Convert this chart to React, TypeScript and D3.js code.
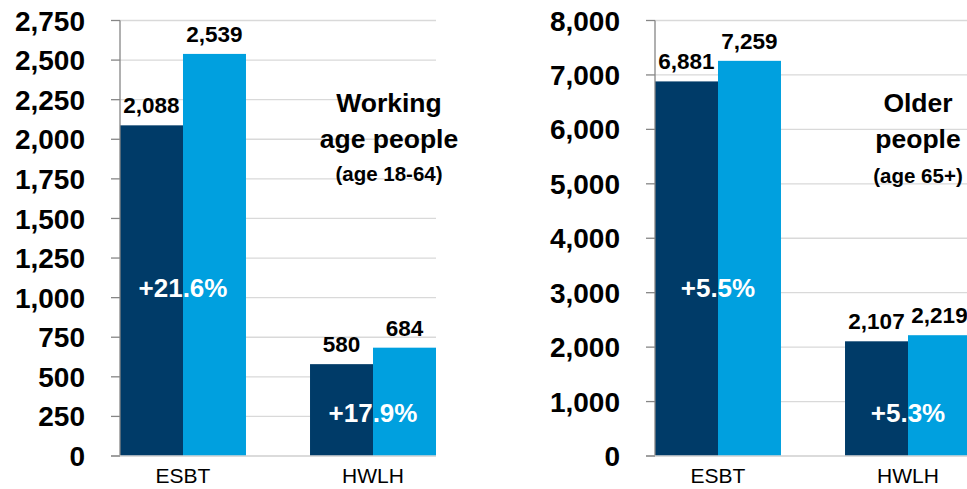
import React from "react";
import * as d3 from "d3";

const categories = ["ESBT", "HWLH"];
const workingBefore = [2088, 580];
const workingAfter = [2539, 684];
const workingPct = ["+21.6%", "+17.9%"];
const workingTicks = [0, 250, 500, 750, 1000, 1250, 1500, 1750, 2000, 2250, 2500, 2750];
const workingTitle = ["Working", "age people", "(age 18-64)"];

const olderBefore = [6881, 2107];
const olderAfter = [7259, 2219];
const olderPct = ["+5.5%", "+5.3%"];
const olderTicks = [0, 1000, 2000, 3000, 4000, 5000, 6000, 7000, 8000];
const olderTitle = ["Older", "people", "(age 65+)"];

const DARK = "#003B68";
const LIGHT = "#00A0DF";
const FONT = "Liberation Sans, Arial, sans-serif";

type PanelProps = {
  x0: number;
  before: number[];
  after: number[];
  pct: string[];
  ticks: number[];
  title: string[];
  titleX: number;
  subY: number;
};

function Panel({ x0, before, after, pct, ticks, title, titleX, subY }: PanelProps) {
  const top = 20.5;
  const bottom = 456;
  const width = 316;
  const y = d3.scaleLinear().domain([0, ticks[ticks.length - 1]]).range([bottom, top]);
  const x = d3.scaleBand<string>().domain(categories).range([x0, x0 + width]).paddingInner(0.337).paddingOuter(0);
  const bw = x.bandwidth() / 2;
  const fmt = d3.format(",");
  const pctY = [297, 422];
  return (
    <g>
      {ticks.map((t) => (
        <g key={t}>
          <line x1={x0} x2={x0 + width} y1={y(t)} y2={y(t)} stroke="#D9D9D9" strokeWidth={1.3} />
          <line x1={x0 - 9} x2={x0} y1={y(t)} y2={y(t)} stroke="#868686" strokeWidth={1.3} />
          <text x={x0 - 35} y={y(t)} dy="0.36em" textAnchor="end" fontFamily={FONT} fontWeight="bold" fontSize={28} fill="#000">
            {fmt(t)}
          </text>
        </g>
      ))}
      {categories.map((c, i) => {
        const bx = x(c)!;
        return (
          <g key={c}>
            <rect x={bx} y={y(before[i])} width={bw} height={y(0) - y(before[i])} fill={DARK} />
            <rect x={bx + bw} y={y(after[i])} width={bw} height={y(0) - y(after[i])} fill={LIGHT} />
            <text x={bx + bw / 2} y={y(before[i]) - 12} textAnchor="middle" fontFamily={FONT} fontWeight="bold" fontSize={22.5} fill="#000">
              {fmt(before[i])}
            </text>
            <text x={bx + bw * 1.5} y={y(after[i]) - 12} textAnchor="middle" fontFamily={FONT} fontWeight="bold" fontSize={22.5} fill="#000">
              {fmt(after[i])}
            </text>
            <text x={bx + bw} y={pctY[i]} textAnchor="middle" fontFamily={FONT} fontWeight="bold" fontSize={26} fill="#fff">
              {pct[i]}
            </text>
            <text x={bx + bw} y={483} textAnchor="middle" fontFamily={FONT} fontSize={21} fill="#000">
              {c}
            </text>
          </g>
        );
      })}
      <line x1={x0} x2={x0} y1={top} y2={bottom} stroke="#868686" strokeWidth={1.3} />
      <line x1={x0 - 9} x2={x0 + width} y1={bottom} y2={bottom} stroke="#D9D9D9" strokeWidth={1.3} />
      <line x1={x0 - 9} x2={x0} y1={bottom} y2={bottom} stroke="#868686" strokeWidth={1.3} />
      <text x={titleX} y={112} textAnchor="middle" fontFamily={FONT} fontWeight="bold" fontSize={26.5} fill="#000">
        {title[0]}
      </text>
      <text x={titleX} y={148} textAnchor="middle" fontFamily={FONT} fontWeight="bold" fontSize={26.5} fill="#000">
        {title[1]}
      </text>
      <text x={titleX} y={subY} textAnchor="middle" fontFamily={FONT} fontWeight="bold" fontSize={20.5} fill="#000">
        {title[2]}
      </text>
    </g>
  );
}

export default function App() {
  return (
    <svg width={967} height={489} style={{ position: "absolute", left: 0, top: 0, background: "#fff" }}>
      <rect width={967} height={489} fill="#fff" />
      <Panel x0={120} before={workingBefore} after={workingAfter} pct={workingPct} ticks={workingTicks} title={workingTitle} titleX={389} subY={181} />
      <Panel x0={655} before={olderBefore} after={olderAfter} pct={olderPct} ticks={olderTicks} title={olderTitle} titleX={918} subY={183} />
    </svg>
  );
}
